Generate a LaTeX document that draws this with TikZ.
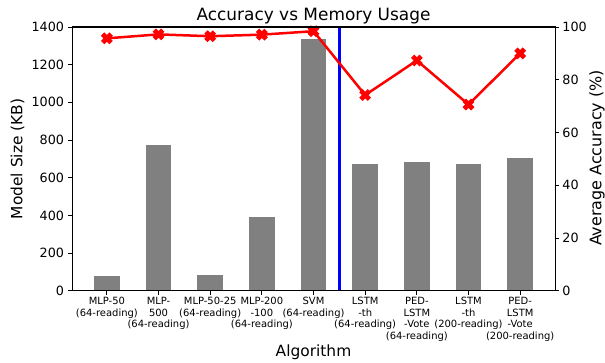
\documentclass[tikz,border=0pt]{standalone}
\usepackage{fontspec}
\setmainfont{DejaVu Sans}
\definecolor{barGray}{HTML}{808080}
\tikzset{
  xmark/.pic={
    \fill[red, draw=red, line width=1bp, line join=miter]
      (-2.6,-5.2) -- (0,-2.6) -- (2.6,-5.2) -- (5.2,-2.6) -- (2.6,0) -- (5.2,2.6)
      -- (2.6,5.2) -- (0,2.6) -- (-2.6,5.2) -- (-5.2,2.6) -- (-2.6,0) -- (-5.2,-2.6) -- cycle;
  }
}
\begin{document}
\begin{tikzpicture}[x=1bp,y=1bp,
  spine/.style={line width=1bp, black},
  tickline/.style={line width=0.9bp, black},
  ticklab/.style={font=\fontsize{12.8}{14}\selectfont, inner sep=0},
  catlab/.style={font=\fontsize{10}{11.7}\selectfont, align=center, anchor=north, inner sep=0},
  axlab/.style={font=\fontsize{15.5}{18}\selectfont, inner sep=0},
  titlelab/.style={font=\fontsize{17}{20}\selectfont, inner sep=0, anchor=base},
  barfill/.style={fill=barGray},
  accline/.style={draw=red, line width=2.5bp, line join=round},
  divider/.style={draw=blue, line width=3.5bp}]
\useasboundingbox (0,0) rectangle (605,362);

% axes box corners
\coordinate (ll) at (72,71.3);
\coordinate (ur) at (555,335);

% bars: model size in KB
\begin{scope}[shift={(106.87bp,71.3bp)}, x=51.66bp, y=0.188357bp]
  \foreach \i/\v in {0/78,1/772,2/83,3/391,4/1336,5/673,6/683,7/673,8/705}
    \fill[barfill] (\i-0.25,0) rectangle (\i+0.25,\v);
  \coordinate (divbot) at (4.5,0);
  \coordinate (divtop) at (4.5,1400);
\end{scope}

% separator between classic models and LSTM models
\draw[divider] (divbot) -- (divtop);

% accuracy curve
\begin{scope}[shift={(106.87bp,71.3bp)}, x=51.66bp, y=2.637bp]
  \foreach \i/\a in {0/95.7,1/97.2,2/96.5,3/97.1,4/98.4,5/74.2,6/87.3,7/70.6,8/90.0}
    \coordinate (a\i) at (\i,\a);
\end{scope}
\draw[accline] (a0) -- (a1) -- (a2) -- (a3) -- (a4) -- (a5) -- (a6) -- (a7) -- (a8);
\foreach \i in {0,...,8} \pic at (a\i) {xmark};

% frame
\draw[spine] (ll) rectangle (ur);

% left axis ticks
\foreach \v in {0,200,...,1400} {
  \pgfmathsetmacro\yy{71.3+\v*0.188357}
  \draw[tickline] (72,\yy) -- (68,\yy) node[ticklab, anchor=east, xshift=-3.5bp] (lt\v) {\v};
}
% right axis ticks
\foreach \v in {0,20,...,100} {
  \pgfmathsetmacro\yy{71.3+\v*2.637}
  \draw[tickline] (555,\yy) -- (559,\yy) node[ticklab, anchor=west, xshift=3bp] (rt\v) {\v};
}
% category ticks and labels
\foreach \i/\t in {0/{MLP-50\\(64-reading)},
                   1/{MLP-\\500\\(64-reading)},
                   2/{MLP-50-25\\(64-reading)},
                   3/{MLP-200\\-100\\(64-reading)},
                   4/{SVM\\(64-reading)},
                   5/{LSTM\\-th\\(64-reading)},
                   6/{PED-\\LSTM\\-Vote\\(64-reading)},
                   7/{LSTM\\-th\\(200-reading)},
                   8/{PED-\\LSTM\\-Vote\\(200-reading)}} {
  \pgfmathsetmacro\xx{106.87+\i*51.66}
  \draw[tickline] (\xx,71.3) -- (\xx,67.3);
  \node[catlab] (cat\i) at (\xx,65) {\t};
}

% titles
\node[titlelab] (title) at (313.5,341.3) {Accuracy vs Memory Usage};
\node[axlab, anchor=base] (xlab) at (313.5,6) {Algorithm};
\node[axlab, rotate=90] (ylab) at (17.5,203.2) {Model Size (KB)};
\node[axlab, rotate=90, font=\fontsize{16}{18}\selectfont] (y2lab) at (597,204) {Average Accuracy (\%)};
\end{tikzpicture}
\end{document}
